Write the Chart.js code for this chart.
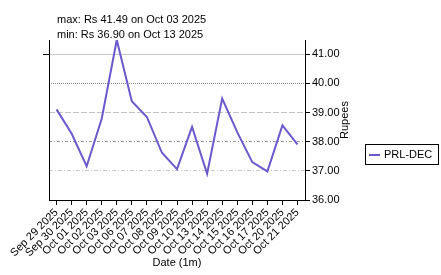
<!DOCTYPE html>
<html>
<head>
<meta charset="utf-8">
<script src="https://cdn.jsdelivr.net/npm/chart.js@4/dist/chart.umd.min.js"></script>
<style>
  body { margin: 0; background: #fff; }
  canvas { display: block; }
</style>
</head>
<body>
<canvas id="priceChart" width="441" height="275"></canvas>
<script>
const dates = [
  "Sep 29 2025", "Sep 30 2025", "Oct 01 2025", "Oct 02 2025", "Oct 03 2025",
  "Oct 06 2025", "Oct 07 2025", "Oct 08 2025", "Oct 09 2025", "Oct 10 2025",
  "Oct 13 2025", "Oct 14 2025", "Oct 15 2025", "Oct 16 2025", "Oct 17 2025",
  "Oct 20 2025", "Oct 21 2025",
];
const prices = [
  39.11, 38.28, 37.16, 38.79, 41.49, 39.39, 38.85, 37.62, 37.06, 38.51,
  36.90, 39.48, 38.33, 37.30, 36.98, 38.56, 37.91,
];
const seriesName = "PRL-DEC";
const yMin = 36;
const yMax = 41.49;

const FONT = "'Liberation Sans', Arial, sans-serif";
const lineColor = "#6a5acd";

// each grid line has its own style in the original
const gridStyles = {
  41: { color: "#c8c8c8", dash: [] },
  40: { color: "#8c8c8c", dash: [1, 1] },
  39: { color: "#c4c4c4", dash: [6, 2] },
  38: { color: "#9a9a9a", dash: [3, 2, 1, 2] },
  37: { color: "#c8c8c8", dash: [4, 2, 1, 2] },
};

// notes, right axis title, legend box, left axis tick
const extras = {
  id: "extras",
  afterDraw(chart) {
    const ctx = chart.ctx;
    const y = chart.scales.y;
    const data = chart.data.datasets[0].data;
    const hi = Math.max(...data);
    const lo = Math.min(...data);
    const hiDate = chart.data.labels[data.indexOf(hi)];
    const loDate = chart.data.labels[data.indexOf(lo)];

    ctx.save();
    ctx.fillStyle = "#000";
    ctx.font = "11px " + FONT;
    ctx.textBaseline = "middle";
    ctx.textAlign = "left";
    ctx.fillText("max: Rs " + hi.toFixed(2) + " on " + hiDate, 57, 20);
    ctx.fillText("min: Rs " + lo.toFixed(2) + " on " + loDate, 57, 35);

    // y title, reading bottom to top
    ctx.save();
    ctx.translate(345, (chart.chartArea.top + chart.chartArea.bottom) / 2);
    ctx.rotate(-Math.PI / 2);
    ctx.textAlign = "center";
    ctx.fillText("Rupees", 0, 0);
    ctx.restore();

    // legend
    ctx.strokeStyle = "#000";
    ctx.lineWidth = 1;
    ctx.strokeRect(365.5, 144.5, 73, 20);
    ctx.strokeStyle = lineColor;
    ctx.lineWidth = 2;
    ctx.beginPath();
    ctx.moveTo(369, 155);
    ctx.lineTo(380, 155);
    ctx.stroke();
    ctx.fillStyle = "#000";
    ctx.fillText(chart.data.datasets[0].label, 384, 155);

    // small tick on the left axis
    const ty = Math.round(y.getPixelForValue(41)) + 0.5;
    ctx.strokeStyle = "#000";
    ctx.lineWidth = 1;
    ctx.beginPath();
    ctx.moveTo(chart.chartArea.left - 6, ty);
    ctx.lineTo(chart.chartArea.left, ty);
    ctx.stroke();
    ctx.restore();
  },
};

const priceChart = new Chart(document.getElementById("priceChart"), {
  type: "line",
  data: {
    labels: dates,
    datasets: [
      {
        label: seriesName,
        data: prices,
        borderColor: lineColor,
        borderWidth: 2,
        pointRadius: 0,
        tension: 0,
        fill: false,
      },
    ],
  },
  options: {
    responsive: false,
    animation: false,
    layout: {
      padding: { left: 49, top: 40, right: 91, bottom: 0 },
    },
    scales: {
      x: {
        position: "bottom",
        offset: true,
        afterFit(scale) {
          scale.height = 75;
        },
        grid: {
          drawOnChartArea: false,
          drawTicks: true,
          tickLength: 5,
          tickColor: "#000",
          offset: false,
        },
        border: { color: "#000", width: 1 },
        ticks: {
          autoSkip: false,
          minRotation: 45,
          maxRotation: 45,
          padding: 1,
          color: "#000",
          font: { family: FONT, size: 11 },
        },
        title: {
          display: true,
          text: "Date (1m)",
          color: "#000",
          font: { family: FONT, size: 11 },
          padding: { top: 0, bottom: 5 },
        },
      },
      y: {
        position: "right",
        min: yMin,
        max: yMax,
        afterFit(scale) {
          scale.width = 45;
        },
        grid: {
          drawOnChartArea: true,
          tickLength: 5,
          tickColor: "#000",
          color: (c) => (c.tick && gridStyles[c.tick.value] ? gridStyles[c.tick.value].color : "rgba(0,0,0,0)"),
        },
        border: {
          color: "#000",
          width: 1,
          dash: (c) => (c.tick && gridStyles[c.tick.value] ? gridStyles[c.tick.value].dash : []),
        },
        ticks: {
          stepSize: 1,
          includeBounds: false,
          padding: 2,
          color: "#000",
          font: { family: FONT, size: 11 },
          callback: (v) => Number(v).toFixed(2),
        },
      },
      y2: {
        position: "left",
        min: yMin,
        max: yMax,
        afterFit(scale) {
          scale.width = 0;
        },
        grid: { drawOnChartArea: false, drawTicks: false },
        border: { color: "#000", width: 1 },
        ticks: { display: false },
      },
    },
    plugins: {
      legend: { display: false },
      tooltip: { enabled: false },
    },
  },
  plugins: [extras],
});
</script>
</body>
</html>
